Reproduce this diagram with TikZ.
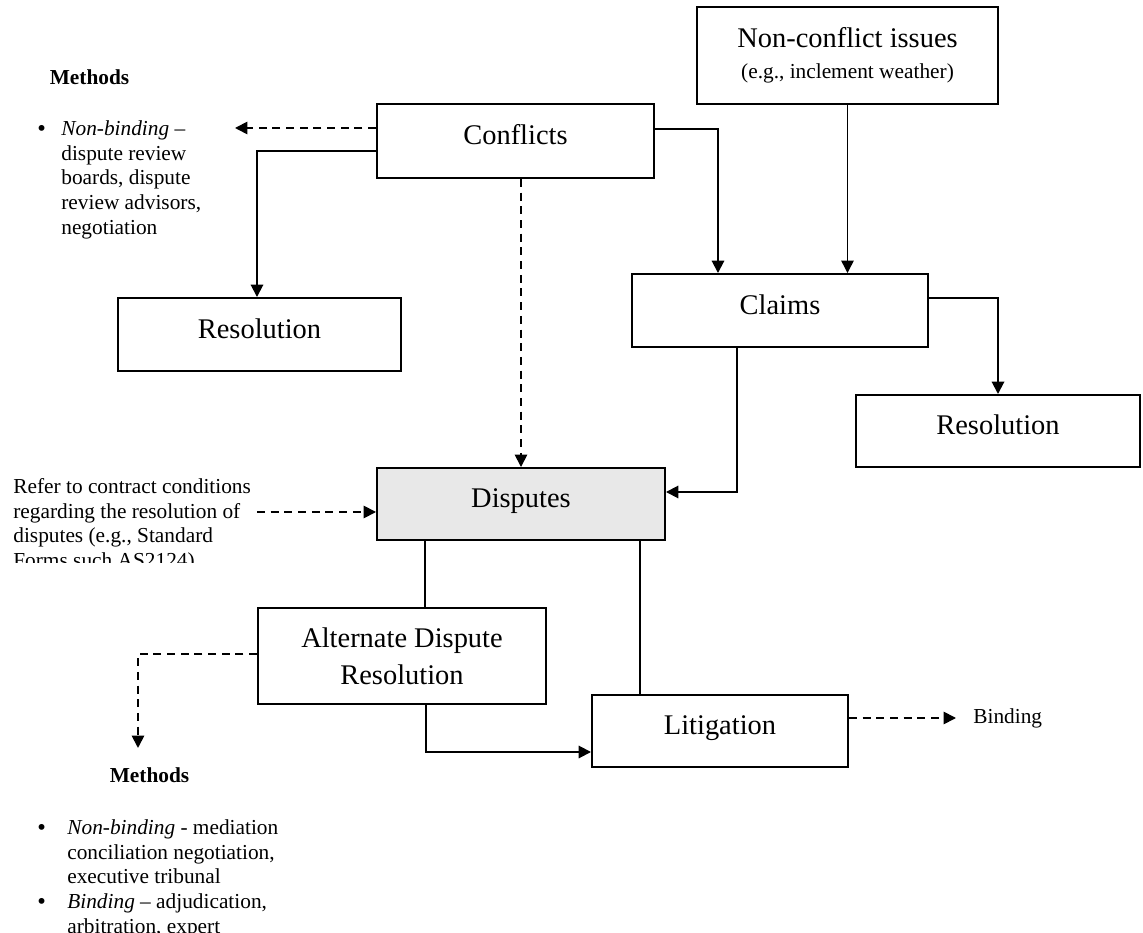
\documentclass[tikz,border=0pt]{standalone}
\usepackage{fontspec}
\setmainfont{Liberation Serif}
\usetikzlibrary{arrows.meta}
\newlength\upx \setlength\upx{0.5625pt}
\definecolor{dispfill}{RGB}{232,232,232}
\newcommand\bul{\raisebox{-0.3pt}{\scalebox{1.15}{\textbullet}}}
\begin{document}
\begin{tikzpicture}[x=0.5625pt,y=-0.5625pt,
  box/.style={draw, line width=1.1pt, inner sep=0pt, align=center, font=\fontsize{16}{18.4}\selectfont},
  one/.style={text height=11pt, text depth=7pt},
  arr/.style={line width=1.1pt, -{Triangle[length=7pt,width=7pt]}},
  thinarr/.style={line width=0.8pt, -{Triangle[length=7pt,width=7pt]}},
  dasharr/.style={line width=1pt, dash pattern=on 4.5pt off 3.2pt, -{Triangle[length=7pt,width=7pt]}},
  plain/.style={line width=0.8pt},
  small/.style={inner sep=0pt, font=\fontsize{12}{13.9}\selectfont},
]
\clip (0,0) rectangle (1143,933);

% boxes
\node[box, minimum width=301\upx, minimum height=97\upx] (nc) at (847.5,55.5)
  {Non-conflict issues\\[-1pt]{\fontsize{12}{14}\selectfont (e.g., inclement weather)}};
\node[box, one, minimum width=277\upx, minimum height=74\upx] (conf) at (515.5,141) {Conflicts};
\node[box, one, minimum width=283\upx, minimum height=73\upx] (resL) at (259.5,334.5) {Resolution};
\node[box, one, minimum width=296\upx, minimum height=73\upx] (claims) at (780,310.5) {Claims};
\node[box, one, minimum width=284\upx, minimum height=72\upx] (resR) at (998,431) {Resolution};
\node[box, one, fill=dispfill, minimum width=288\upx, minimum height=72\upx] (disp) at (521,504) {Disputes};
\node[box, minimum width=288\upx, minimum height=96\upx] (adr) at (402,656) {Alternate Dispute\\[2.4pt]Resolution};
\node[box, one, minimum width=256\upx, minimum height=72\upx] (lit) at (720,731) {Litigation};

% texts
\node[small, font=\fontsize{12}{13.9}\selectfont\bfseries] (m1t) at (89.5,77) {Methods};
\node[small, anchor=base west] (m1) at (37,135.5) {\begin{tabular}[t]{@{}p{24\upx}@{}l@{}}
\bul & \textit{Non-binding} –\\
 & dispute review\\
 & boards, dispute\\
 & review advisors,\\
 & negotiation
\end{tabular}};

\node[small, font=\fontsize{12}{13.9}\selectfont\bfseries] (m2t) at (149.5,775) {Methods};
\node[small, anchor=base west] (m2) at (37,834.5) {\begin{tabular}[t]{@{}p{30\upx}@{}l@{}}
\bul & \textit{Non-binding} - mediation\\
 & conciliation negotiation,\\
 & executive tribunal\\
\bul & \textit{Binding} – adjudication,\\
 & arbitration, expert
\end{tabular}};

\begin{scope}
\clip (0,465) rectangle (300,563);
\node[small, anchor=base west, font=\fontsize{12}{13.7}\selectfont] (refer) at (13,494) {\begin{tabular}[t]{@{}l@{}}
Refer to contract conditions\\
regarding the resolution of\\
disputes (e.g., Standard\\
Forms such AS2124)
\end{tabular}};
\end{scope}

\node[small, anchor=base west] (bind) at (973,723) {Binding};

% free ends
\coordinate (m1tip) at (235,128);
\coordinate (refstart) at (257,512);
\coordinate (adrtip) at (138,748);
\coordinate (bindtip) at (956,718);

% connectors
\draw[dasharr] (conf.west |- 0,128) -- (m1tip);
\draw[arr] (conf.west |- 0,151) -| (resL.north -| 257,0);
\draw[arr] (conf.east |- 0,129) -| (claims.north -| 718,0);
\draw[thinarr] (nc.south) -- (claims.north -| nc.south);
\draw[arr] (claims.east |- 0,298) -| (resR.north);
\draw[arr] (claims.south -| 737,0) |- (disp.east |- 0,492);
\draw[dasharr] (conf.south -| disp.north) -- (disp.north);
\draw[dasharr] (refstart) -- (disp.west |- refstart);
\draw[plain] (disp.south -| 425,0) -- (adr.north -| 425,0);
\draw[plain] (disp.south -| 640,0) -- (lit.north -| 640,0);
\draw[arr] (adr.south -| 426,0) |- (lit.west |- 0,752);
\draw[dasharr] (adr.west |- 0,654) -| (adrtip);
\draw[dasharr] (lit.east |- 0,718) -- (bindtip);
\end{tikzpicture}
\end{document}
